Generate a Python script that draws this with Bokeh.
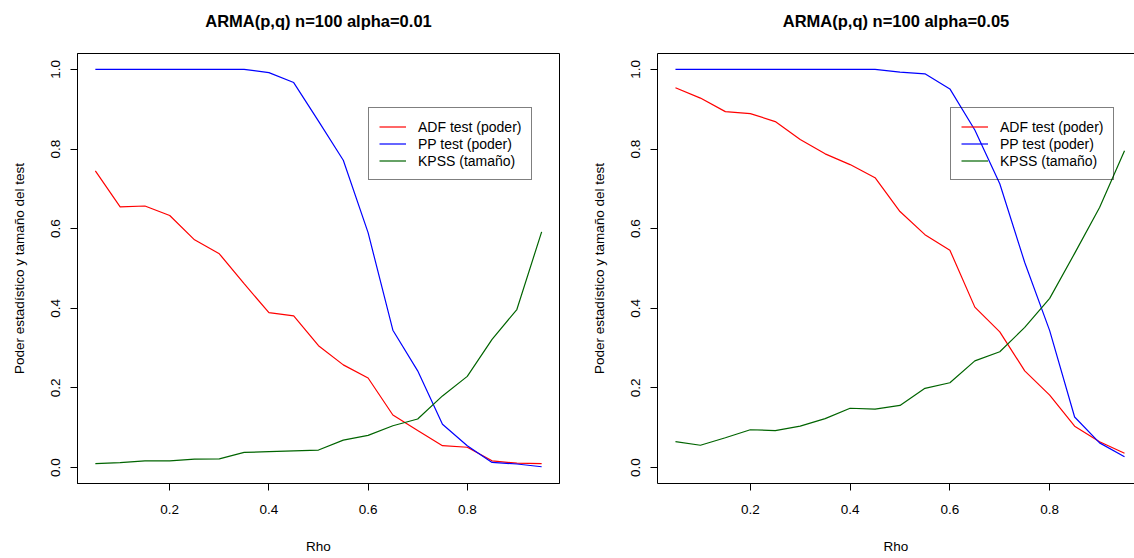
from bokeh.plotting import figure
from bokeh.layouts import row
from bokeh.models import (Legend, LegendItem, FixedTicker, NumeralTickFormatter,
                          Range1d, LinearAxis)
from bokeh.embed import file_html
from bokeh.resources import INLINE

rho = [0.05, 0.10, 0.15, 0.20, 0.25, 0.30, 0.35, 0.40, 0.45, 0.50,
       0.55, 0.60, 0.65, 0.70, 0.75, 0.80, 0.85, 0.90, 0.95]

# alpha = 0.01
adf_01 = [0.745, 0.655, 0.657, 0.633, 0.572, 0.537, 0.462, 0.389, 0.381, 0.306,
          0.258, 0.225, 0.132, 0.093, 0.055, 0.051, 0.017, 0.011, 0.010]
pp_01 = [1.0, 1.0, 1.0, 1.0, 1.0, 1.0, 1.0, 0.992, 0.967, 0.870,
         0.772, 0.590, 0.345, 0.243, 0.109, 0.055, 0.013, 0.009, 0.002]
kpss_01 = [0.010, 0.0125, 0.017, 0.017, 0.021, 0.022, 0.038, 0.040, 0.042, 0.044,
           0.069, 0.081, 0.105, 0.122, 0.180, 0.229, 0.322, 0.397, 0.592]

# alpha = 0.05
adf_05 = [0.954, 0.928, 0.894, 0.889, 0.869, 0.824, 0.788, 0.761, 0.728, 0.643,
          0.585, 0.546, 0.403, 0.341, 0.243, 0.182, 0.104, 0.065, 0.036]
pp_05 = [1.0, 1.0, 1.0, 1.0, 1.0, 1.0, 1.0, 1.0, 1.0, 0.993,
         0.989, 0.951, 0.848, 0.713, 0.515, 0.344, 0.127, 0.062, 0.027]
kpss_05 = [0.065, 0.056, 0.075, 0.095, 0.093, 0.104, 0.123, 0.149, 0.147, 0.156,
           0.199, 0.213, 0.268, 0.291, 0.352, 0.425, 0.538, 0.653, 0.796]

titles = ["ARMA(p,q) n=100 alpha=0.01", "ARMA(p,q) n=100 alpha=0.05"]
series_names = ["ADF test (poder)", "PP test (poder)", "KPSS (tamaño)"]
x_ticks = [0.2, 0.4, 0.6, 0.8]
y_ticks = [0.0, 0.2, 0.4, 0.6, 0.8, 1.0]
x_label = "Rho"
y_label = "Poder estadístico y tamaño del test"

COLORS = ["#FF0000", "#0000FF", "#006400"]
FONT = "Liberation Sans"


def bare_axis(**kw):
    return LinearAxis(ticker=FixedTicker(ticks=[]), major_label_text_font_size="0px",
                      major_tick_line_color=None, minor_tick_line_color=None,
                      major_tick_out=0, major_tick_in=0, minor_tick_out=0, minor_tick_in=0,
                      major_label_standoff=0, **kw)


def make(title, adf, pp, kpss, left, right, bottom, x_end, full_box, title_bounds, leg_loc):
    p = figure(width=567, height=558,
               x_range=Range1d(0.014, x_end), y_range=Range1d(-0.04, 1.04),
               output_backend="svg", toolbar_location=None,
               min_border_left=left, min_border_right=right,
               min_border_top=53, min_border_bottom=bottom,
               background_fill_color="white", border_fill_color="white")
    p.xgrid.visible = False
    p.ygrid.visible = False
    p.title.visible = False

    xa = p.below[0]
    ya = p.left[0]
    for ax in (xa, ya):
        ax.axis_line_color = "black"
        ax.axis_line_width = 1
        ax.major_tick_line_color = "black"
        ax.major_tick_out = 7
        ax.major_tick_in = 0
        ax.minor_tick_line_color = None
        ax.major_label_text_font = FONT
        ax.major_label_text_font_size = "13.5px"
        ax.major_label_text_color = "black"
        ax.axis_label_text_font = FONT
        ax.axis_label_text_font_size = "13.5px"
        ax.axis_label_text_font_style = "normal"
        ax.axis_label_text_color = "black"
        ax.formatter = NumeralTickFormatter(format="0.0")

    xa.ticker = FixedTicker(ticks=x_ticks)
    ya.ticker = FixedTicker(ticks=y_ticks)
    xa.axis_label = x_label
    ya.axis_label = y_label
    xa.major_label_standoff = 14
    xa.axis_label_standoff = 22
    ya.major_label_standoff = 10
    ya.axis_label_standoff = 22
    ya.major_label_orientation = "vertical"

    if full_box:
        p.outline_line_color = "black"
        p.outline_line_width = 1
    else:
        p.outline_line_color = None
        p.add_layout(bare_axis(axis_line_color="black"), "above")

    title_axis = bare_axis(axis_line_color=None, axis_label=title,
                           axis_label_text_font=FONT, axis_label_text_font_size="16.5px",
                           axis_label_text_font_style="bold", axis_label_text_color="black",
                           axis_label_standoff=24)
    if title_bounds is not None:
        title_axis.bounds = title_bounds
    p.add_layout(title_axis, "above")

    rs = []
    for ys, c in zip([adf, pp, kpss], COLORS):
        rs.append(p.line(rho, ys, line_color=c, line_width=1.2))

    leg = Legend(items=[LegendItem(label=n, renderers=[r]) for n, r in zip(series_names, rs)],
                 location=leg_loc, orientation="vertical",
                 background_fill_alpha=0.0, border_line_color="black", border_line_width=1,
                 padding=10, spacing=0, margin=0,
                 glyph_width=27, glyph_height=17, label_height=17, label_standoff=12,
                 label_text_font=FONT, label_text_font_size="14px", label_text_color="black")
    p.add_layout(leg)
    return p


p1 = make(titles[0], adf_01, pp_01, kpss_01, 77, 8, 75, 0.986, True, None, (291, 303))
p2 = make(titles[1], adf_05, pp_05, kpss_05, 90, 0, 73, 0.970, False, (0.030, 0.970), (293, 303))

layout = row(p1, p2)
open("out.html", "w").write(file_html(layout, INLINE))
